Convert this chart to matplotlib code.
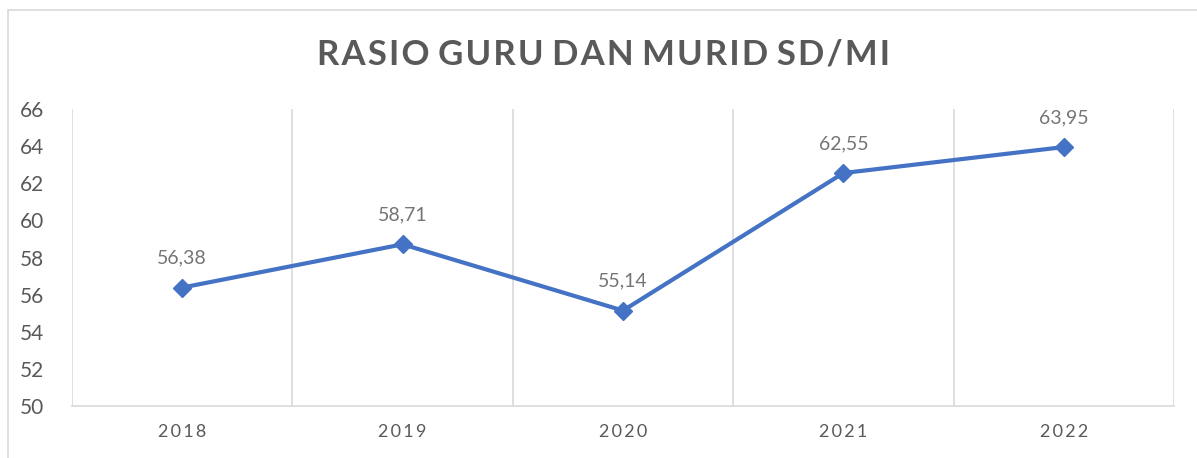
import matplotlib.pyplot as plt
from matplotlib.patches import Rectangle

years = ["2018", "2019", "2020", "2021", "2022"]
rasio = [56.38, 58.71, 55.14, 62.55, 63.95]
yticks = [50, 52, 54, 56, 58, 60, 62, 64, 66]
title = "RASIO GURU DAN MURID SD/MI"

plt.rcParams['font.family'] = ['Lato', 'DejaVu Sans']

W, H = 1197, 458
fig = plt.figure(figsize=(W / 100, H / 100), dpi=100)
ax = fig.add_axes([72 / W, 1 - 406 / H, (1174 - 72) / W, (406 - 109) / H])

x = list(range(len(years)))
ax.plot(x, rasio, color="#4472C4", linewidth=3, marker="D", markersize=9,
        solid_capstyle="round", zorder=3)
for xi, v in zip(x, rasio):
    ax.annotate(f"{v:.2f}".replace(".", ","), (xi, v), xytext=(0, 15),
                textcoords="offset points", ha="center", va="bottom",
                fontsize=14, color="#757575")

ax.set_xlim(-0.5, len(years) - 0.5)
ax.set_ylim(50, 66)
ax.set_yticks(yticks)
ax.set_yticklabels([str(t) for t in yticks], fontsize=15, color="#595959")
ax.set_xticks(x)
ax.set_xticklabels(["\u2009".join(y) for y in years], fontsize=13, color="#595959")
ax.tick_params(axis="both", length=0)
ax.tick_params(axis="x", pad=13)
ax.tick_params(axis="y", pad=20)

for b in [i + 0.5 for i in range(-1, len(years))]:
    ax.axvline(b, color="#D9D9D9", linewidth=1.2, zorder=1)
for s in ["top", "right", "left"]:
    ax.spines[s].set_visible(False)
ax.spines["bottom"].set_color("#D9D9D9")
ax.spines["bottom"].set_linewidth(1.2)

spaced = " ".join("\u200a".join(w) for w in title.split(" "))
fig.text(604 / W, 1 - 55 / H, spaced, ha="center", va="center",
         fontsize=25, fontweight="bold", color="#595959")

fig.patches.append(Rectangle((8 / W, -0.1), 1.2, 1 - 10 / H + 0.1, transform=fig.transFigure,
                             fill=False, edgecolor="#D9D9D9", linewidth=1.2))

fig.savefig("out.png", dpi=100)
